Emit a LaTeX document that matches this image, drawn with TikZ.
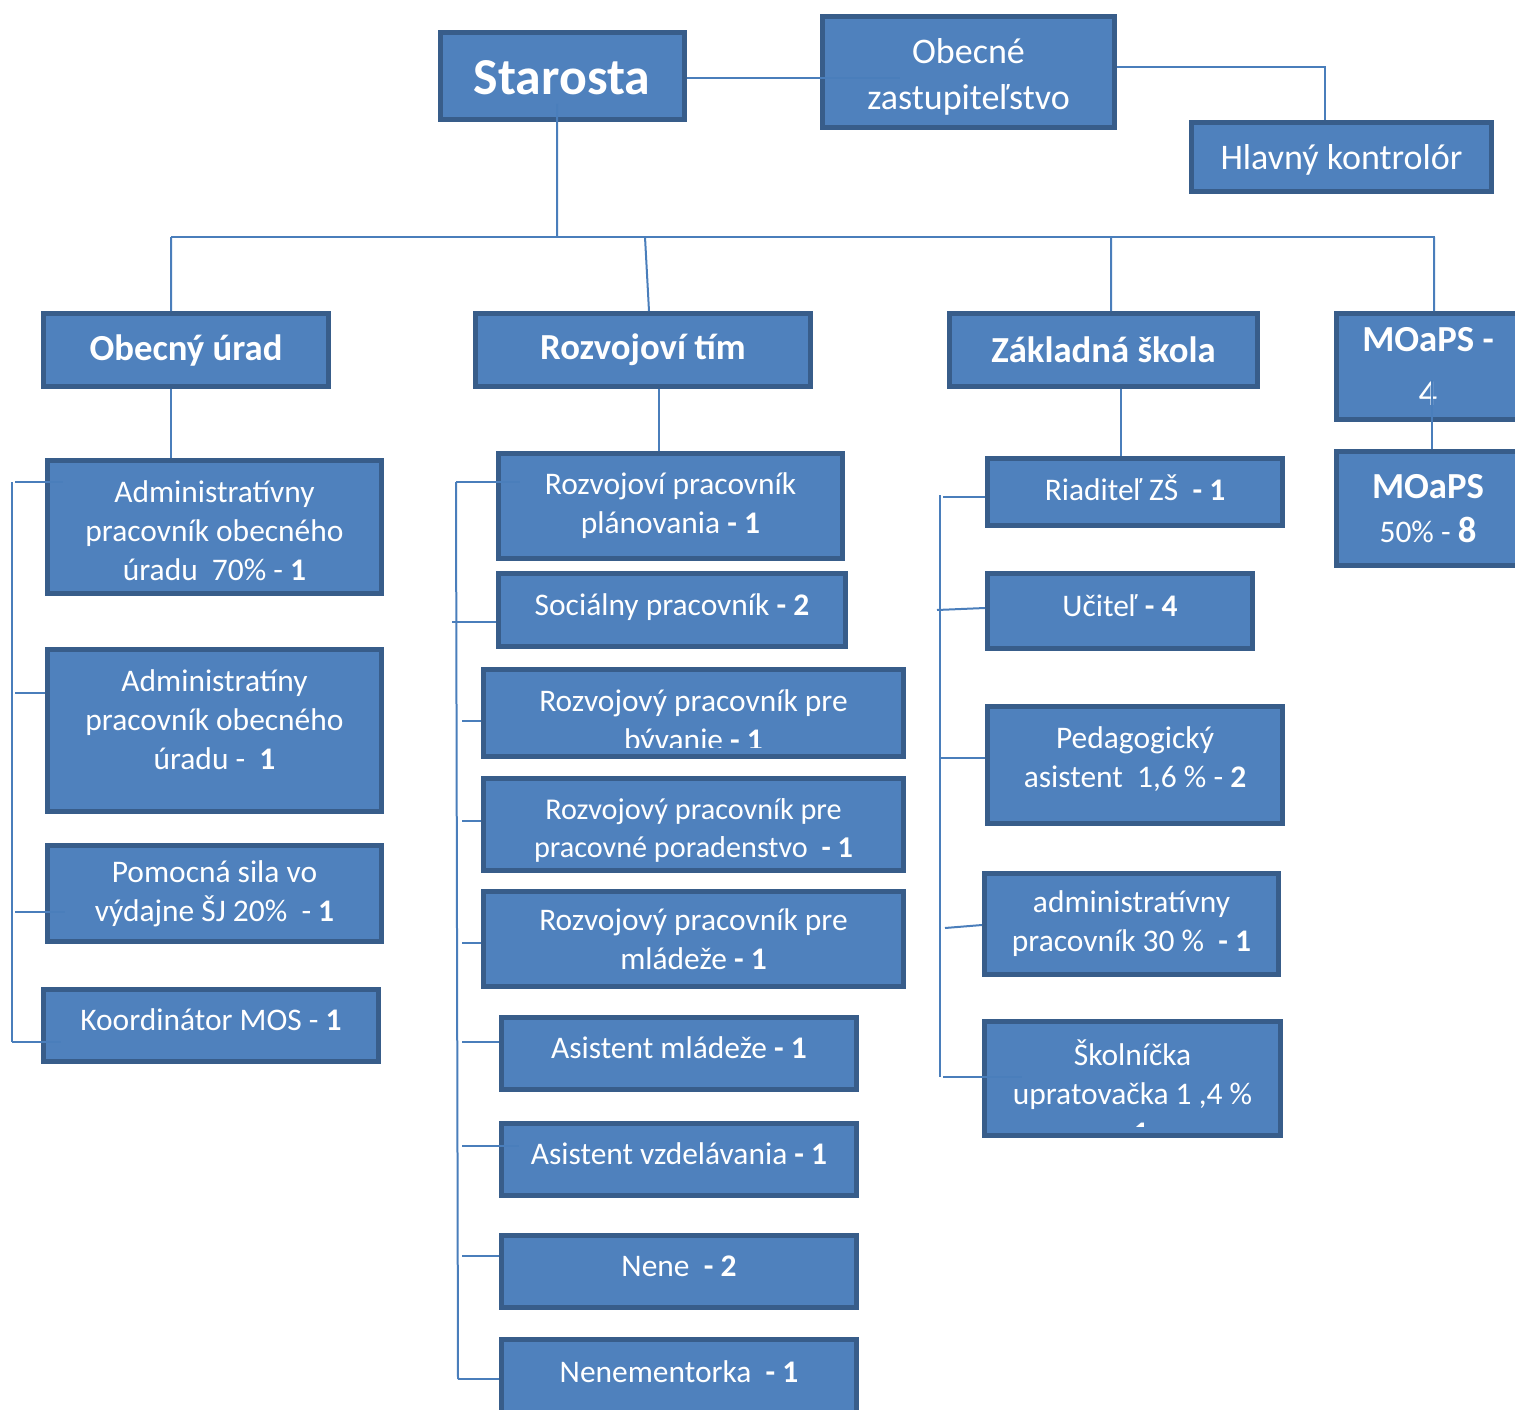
\documentclass[tikz,border=0pt]{standalone}
\usepackage{fontspec}
\setmainfont{Carlito}
\definecolor{boxfill}{HTML}{4F81BD}
\definecolor{boxedge}{HTML}{385D8A}
\definecolor{linkcol}{HTML}{4A7EBB}
\newcommand{\bodyfont}{\fontsize{17.9}{22.2}\selectfont}
\newcommand{\smallbody}{\fontsize{17.2}{21.4}\selectfont}
\newcommand{\headfont}{\fontsize{20.9}{25}\selectfont\bfseries}
\newcommand{\topfont}{\fontsize{20.5}{26}\selectfont}
\newcommand{\bigfont}{\fontsize{29.5}{35}\selectfont\bfseries}

\begin{document}
\begin{tikzpicture}[x=0.02cm,y=-0.02cm,
  box/.style 2 args={draw=boxedge,line width=0.1cm,fill=boxfill,text=white,align=center,
    inner sep=0pt,minimum width=#1*0.02cm,minimum height=#2*0.02cm,font=\bodyfont},
  oneline/.style={text height=8.2pt,text depth=2pt},
  link/.style={draw=linkcol,line width=0.04cm},
  txt/.style n args={3}{path picture={
    \node[text=white,align=center,font=#1,inner sep=0pt,minimum width=0pt,minimum height=0pt]
      (boxtext) at ([yshift=#2]path picture bounding box.center) {#3};}},
  cut/.style 2 args={path picture={
    \clip ([yshift=0.18cm]path picture bounding box.south west) rectangle (path picture bounding box.north east);
    \node[text=white,align=center,font=\bodyfont,inner sep=0pt,minimum width=0pt,minimum height=0pt]
      (cuttext) at ([yshift=#1]path picture bounding box.center) {#2};}}]
\useasboundingbox (0,0) rectangle (1515,1410);
% top row
\node[box={244}{87},font=\bigfont,text height=21.5pt,text depth=0.7pt] (starosta) at (562,76) {Starosta};
\node[box={292}{111},txt={\topfont}{-0.1cm}{Obecné\\zastupiteľstvo}] (zastup) at (968.5,72) {};
\node[box={300}{69},font=\topfont,text height=16pt,text depth=2pt] (kontrolor) at (1341.5,157) {Hlavný kontrolór};
% second row
\node[box={285}{73},font=\headfont] (urad) at (186,350) {Obecný úrad};
\node[box={335}{73},font=\headfont] (tim) at (643,350) {Rozvojoví tím};
\node[box={308}{73},font=\headfont] (skola) at (1103.5,350) {Základná škola};
\node[box={183}{106},font=\headfont] (moaps) at (1428,366.5) {MOaPS -\\[6pt]{\mdseries 4}};
\node[box={183}{114}] (moaps2) at (1428,508.5) {{\headfont MOaPS}\\[3pt]50\% - {\headfont 8}};
% obecny urad
\node[box={334}{133},txt={\bodyfont}{-0.08cm}{Administratívny\\pracovník obecného\\úradu~ 70\% - \textbf{1}}] (ur1) at (214.5,527) {};
\node[box={334}{162},txt={\bodyfont}{0.22cm}{Administratíny\\pracovník obecného\\úradu -~ \textbf{1}}] (ur2) at (214.5,730.5) {};
\node[box={334}{96}] (ur3) at (214.5,893.5) {Pomocná sila vo\\výdajne ŠJ 20\%~ - \textbf{1}};
\node[box={335}{72},oneline] (ur4) at (211,1025.5) {Koordinátor MOS - \textbf{1}};
% rozvojovi tim
\node[box={344}{105}] (rt1) at (670.5,506) {Rozvojoví pracovník\\plánovania \textbf{- 1}};
\node[box={347}{73},oneline] (rt2) at (672,610) {Sociálny pracovník \textbf{- 2}};
\node[box={420}{87},cut={-0.2cm}{Rozvojový pracovník pre\\bývanie \textbf{- 1}}] (rt3) at (693.5,713) {};
\node[box={420}{92},txt={\smallbody}{-0.12cm}{Rozvojový pracovník pre\\pracovné poradenstvo~ \textbf{- 1}}] (rt4) at (693.5,824.5) {};
\node[box={420}{95}] (rt5) at (693.5,939) {Rozvojový pracovník pre\\mládeže \textbf{- 1}};
\node[box={355}{72},oneline] (rt6) at (679,1053.5) {Asistent mládeže \textbf{- 1}};
\node[box={355}{72},oneline] (rt7) at (679,1159.5) {Asistent vzdelávania \textbf{- 1}};
\node[box={355}{72},oneline] (rt8) at (679,1271.5) {Nene~ \textbf{- 2}};
\node[box={355}{78},txt={\bodyfont}{0.14cm}{Nenementorka~ \textbf{- 1}}] (rt9) at (679,1378.5) {};
% zakladna skola
\node[box={295}{67},oneline,text height=11.4pt] (zs1) at (1135,492) {Riaditeľ ZŠ~ \textbf{- 1}};
\node[box={265}{75},oneline] (zs2) at (1120,611) {Učiteľ \textbf{- 4}};
\node[box={295}{117},txt={\bodyfont}{0.12cm}{Pedagogický\\asistent~ 1,6 \% - \textbf{2}}] (zs3) at (1135,765) {};
\node[box={294}{101}] (zs4) at (1131.5,924) {administratívny\\pracovník 30 \%~ \textbf{- 1}};
\node[box={296}{114},cut={-0.27cm}{Školníčka\\upratovačka 1 ,4 \%\\- \textbf{1}}] (zs5) at (1132.5,1078.5) {};
% top links
\draw[link] (starosta.east |- 0,78) -- ([xshift=1.6cm]zastup.west |- 0,78);
\draw[link,line width=0.03cm] ([yshift=0.1cm]zastup.east) -| ([xshift=-0.33cm]kontrolor.north);
\coordinate (bus) at (557,237);
\coordinate (busl) at (171,237);
\coordinate (busr) at (1435,237);
\draw[link] ([xshift=-0.1cm,yshift=-0.56cm]starosta.center) -- (bus);
\draw[link] (busl) -- (busr);
\draw[link] (busl) -- ([xshift=-0.3cm]urad.north);
\draw[link] (645,237) -- ([xshift=0.12cm]tim.north);
\draw[link] (1111,237) -- ([xshift=0.15cm]skola.north);
\draw[link] (1434,237) -- ([xshift=0.12cm]moaps.north);
% heads to first boxes
\draw[link] ([xshift=-0.3cm]urad.south) -- ([xshift=-0.3cm]urad.south |- ur1.north);
\draw[link] ([xshift=0.32cm]tim.south) -- ([xshift=0.32cm]tim.south |- rt1.north);
\draw[link] ([xshift=0.35cm]skola.south) -- ([xshift=0.35cm]skola.south |- zs1.north);
\draw[link] ([xshift=0.08cm,yshift=-0.27cm]moaps.center) -- ([xshift=0.08cm]moaps.center |- moaps2.north);
% left bracket
\draw[link] (12,482) -- (12,1042);
\draw[link] (15,482) -- ([xshift=0.36cm]ur1.west |- 0,482);
\draw[link] (15,693) -- (ur2.west |- 0,693);
\draw[link] (15,912) -- ([xshift=0.4cm]ur3.west |- 0,912);
\draw[link] (12,1042) -- ([xshift=0.4cm]ur4.west |- 0,1042);
% middle bracket
\draw[link] (456,482) -- (458,1379);
\draw[link] (456,482) -- ([xshift=0.48cm]rt1.west |- 0,482);
\draw[link] (452,622) -- (rt2.west |- 0,622);
\draw[link] (462,721) -- (rt3.west |- 0,721);
\draw[link] (462,821) -- (rt4.west |- 0,821);
\draw[link] (462,943) -- (rt5.west |- 0,943);
\draw[link] (462,1042) -- (rt6.west |- 0,1042);
\draw[link] (462,1146) -- ([xshift=0.4cm]rt7.west |- 0,1146);
\draw[link] (462,1256) -- (rt8.west |- 0,1256);
\draw[link] (458,1379) -- (rt9.west |- 0,1379);
% right bracket
\draw[link] (940,495) -- (940,1077);
\draw[link] (943,497) -- (zs1.west |- 0,497);
\draw[link] (937,610) -- (zs2.west |- 0,608);
\draw[link] (940,758) -- (zs3.west |- 0,758);
\draw[link] (945,928) -- (zs4.west |- 0,925);
\draw[link] (943,1077) -- ([xshift=0.8cm]zs5.west |- 0,1077);
\end{tikzpicture}
\end{document}
